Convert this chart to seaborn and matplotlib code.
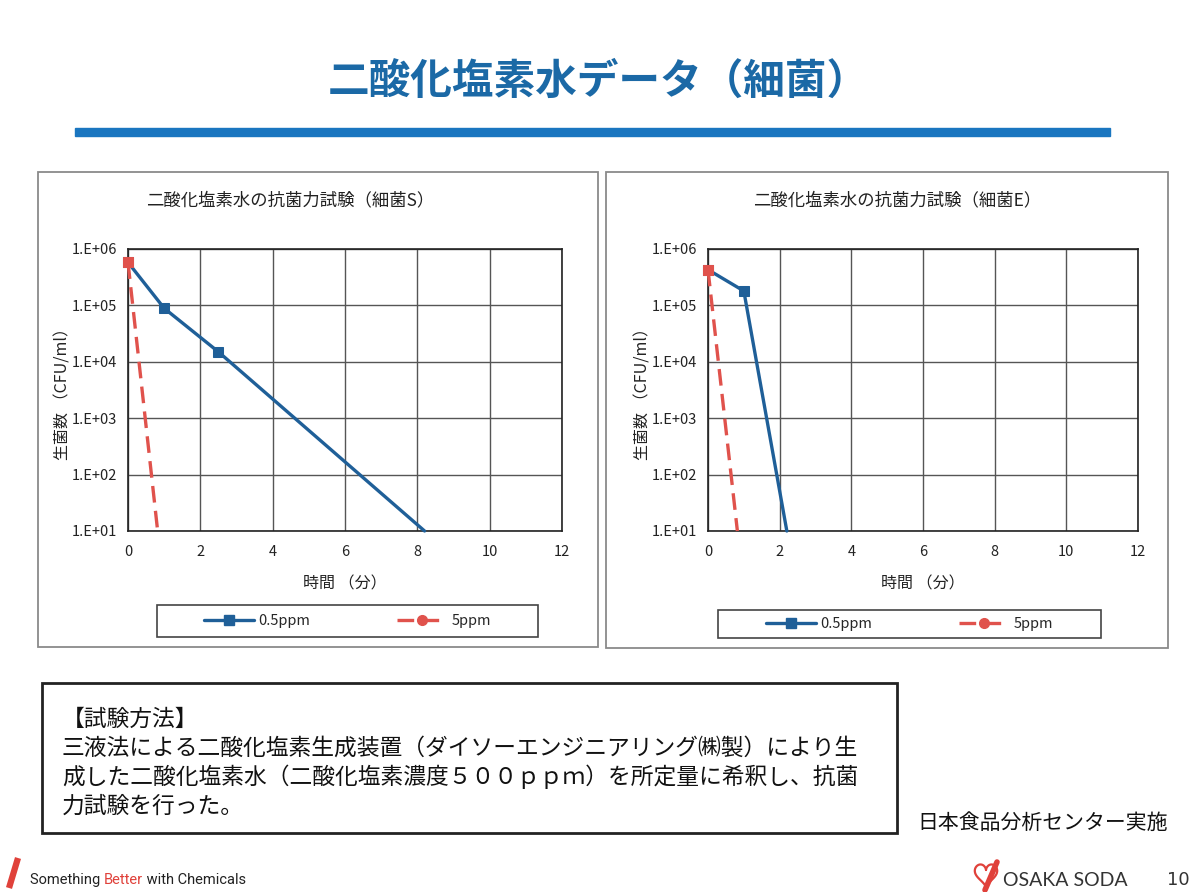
import numpy as np
import pandas as pd
import seaborn as sns
import matplotlib.pyplot as plt
from matplotlib.patches import Rectangle
from matplotlib.lines import Line2D
from matplotlib.ticker import FixedLocator, NullLocator

# data (time in minutes, CFU/ml)
time_s_05 = [0, 1, 2.5, 8.2]
cfu_s_05 = [5.8e5, 8.9e4, 1.5e4, 10]
time_s_5 = [0, 0.82]
cfu_s_5 = [5.8e5, 10]

time_e_05 = [0, 1, 2.2]
cfu_e_05 = [4.3e5, 1.8e5, 10]
time_e_5 = [0, 0.82]
cfu_e_5 = [4.3e5, 10]

series_labels = ["0.5ppm", "5ppm"]
y_ticks = [1e1, 1e2, 1e3, 1e4, 1e5, 1e6]
y_tick_labels = ["1.E+01", "1.E+02", "1.E+03", "1.E+04", "1.E+05", "1.E+06"]
x_ticks = [0, 2, 4, 6, 8, 10, 12]

sns.set_theme(style="white")
plt.rcParams['font.family'] = ['Noto Sans CJK JP', 'DejaVu Sans']

W, H = 1200, 892
fig = plt.figure(figsize=(W / 100, H / 100), dpi=100)
fig.patch.set_facecolor("white")

BLUE = "#1f5f98"
RED = "#e0524c"


def rect(x0, y0, x1, y1):
    return [x0 / W, 1 - y1 / H, (x1 - x0) / W, (y1 - y0) / H]


def fx(x):
    return np.asarray(x) / W


def fy(y):
    return 1 - np.asarray(y) / H


# page title and bar
fig.text(fx(598), fy(82), "二酸化塩素水データ（細菌）", ha="center", va="center",
         fontsize=30, fontweight="semibold", color="#1b69a6")
fig.patches.append(Rectangle((fx(75), fy(136)), fx(1110) - fx(75), fy(128) - fy(136),
                             transform=fig.transFigure, color="#1a76c0", zorder=1))

# chart frames
for bx in [(38, 172, 598, 647), (606, 172, 1168, 648)]:
    fig.patches.append(Rectangle((fx(bx[0]), fy(bx[3])), fx(bx[2]) - fx(bx[0]),
                                 fy(bx[1]) - fy(bx[3]), transform=fig.transFigure,
                                 fill=False, edgecolor="#8a8a8a", lw=1.3))


def draw_chart(ax, t05, c05, t5, c5, title, tx, legend_box):
    df05 = pd.DataFrame({"t": t05, "cfu": c05})
    df5 = pd.DataFrame({"t": t5, "cfu": c5})
    sns.lineplot(data=df05, x="t", y="cfu", ax=ax, color=BLUE, lw=2.4, sort=False,
                 marker="s", markersize=7, markeredgecolor=BLUE,
                 markevery=list(range(len(t05) - 1)), zorder=3, clip_on=False)
    sns.lineplot(data=df5, x="t", y="cfu", ax=ax, color=RED, lw=2.4, sort=False,
                 linestyle=(0, (5, 2.5)), marker="s", markersize=7,
                 markeredgecolor=RED, markevery=[0], zorder=4, clip_on=False)
    ax.set_yscale("log")
    ax.set_xlim(0, 12)
    ax.set_ylim(10, 1e6)
    ax.yaxis.set_major_locator(FixedLocator(y_ticks))
    ax.yaxis.set_minor_locator(NullLocator())
    ax.set_yticklabels(y_tick_labels)
    ax.set_xticks(x_ticks)
    ax.grid(True, color="#555555", lw=1)
    for sp in ax.spines.values():
        sp.set_color("#222222")
        sp.set_linewidth(1.2)
    ax.tick_params(length=0, labelsize=10.5, colors="#222222")
    ax.tick_params(axis="x", pad=10)
    ax.tick_params(axis="y", pad=8)
    ax.set_xlabel("時間 （分）", fontsize=11.5, labelpad=12, color="#222222")
    ax.set_ylabel("生菌数 （CFU/ml）", fontsize=11.5, labelpad=0, color="#222222")
    fig.text(fx(tx), fy(200), title, ha="center", va="center", fontsize=12.5,
             color="#222222")
    handles = [Line2D([], [], color=BLUE, lw=2.4, marker="s", markersize=7),
               Line2D([], [], color=RED, lw=2.4, linestyle=(0, (5, 2.5)),
                      marker="o", markersize=7)]
    lx0, ly0, lx1, ly1 = legend_box
    fig.legend(handles, series_labels, ncol=2, loc="center",
               bbox_to_anchor=(fx((lx0 + lx1) / 2), fy((ly0 + ly1) / 2)),
               frameon=False, fontsize=10.5, handlelength=3.4, columnspacing=6,
               handletextpad=0.3)
    fig.patches.append(Rectangle((fx(lx0), fy(ly1)), fx(lx1) - fx(lx0), fy(ly0) - fy(ly1),
                                 transform=fig.transFigure, fill=False,
                                 edgecolor="#444444", lw=1.2))


ax1 = fig.add_axes(rect(128, 249, 562, 531))
draw_chart(ax1, time_s_05, cfu_s_05, time_s_5, cfu_s_5,
           "二酸化塩素水の抗菌力試験（細菌S）", 290, (157, 605, 538, 637))
ax2 = fig.add_axes(rect(708, 249, 1138, 531))
draw_chart(ax2, time_e_05, cfu_e_05, time_e_5, cfu_e_5,
           "二酸化塩素水の抗菌力試験（細菌E）", 897, (718, 610, 1101, 638))

# method box
fig.patches.append(Rectangle((fx(42), fy(833)), fx(897) - fx(42), fy(683) - fy(833),
                             transform=fig.transFigure, fill=False,
                             edgecolor="#222222", lw=2))
method_lines = ["【試験方法】",
                "三液法による二酸化塩素生成装置（ダイソーエンジニアリング㈱製）により生",
                "成した二酸化塩素水（二酸化塩素濃度５００ｐｐｍ）を所定量に希釈し、抗菌",
                "力試験を行った。"]
for i, line in enumerate(method_lines):
    fig.text(fx(62), fy(719 + i * 29), line, ha="left", va="center",
             fontsize=16.4, color="#111111")

fig.text(fx(1168), fy(823), "日本食品分析センター実施", ha="right", va="center",
         fontsize=15, color="#111111")

# footer
fig.lines.append(Line2D([fx(9), fx(18)], [fy(888), fy(858)], transform=fig.transFigure,
                        color="#e0413a", lw=4.5, solid_capstyle="butt"))
t1 = fig.text(fx(30), fy(880), "Something ", ha="left", va="center",
              fontsize=10.5, color="#222222", family=["Roboto", "DejaVu Sans"])
t2 = fig.text(0, 0, "Better", fontsize=10.5, color="#e0413a",
              family=["Roboto", "DejaVu Sans"])
t3 = fig.text(0, 0, " with Chemicals", fontsize=10.5, color="#222222",
              family=["Roboto", "DejaVu Sans"])
fig.canvas.draw()
r = fig.canvas.get_renderer()
bb1 = t1.get_window_extent(r)
t1.set_va("bottom")
t1.set_position((fx(30), bb1.y0 / H))
t2.set_position((bb1.x1 / W, bb1.y0 / H))
t2.set_va("bottom")
fig.canvas.draw()
bb2 = t2.get_window_extent(r)
t3.set_position((bb2.x1 / W, bb1.y0 / H))
t3.set_va("bottom")

# logo: heart outline plus a slash stroke
th = np.linspace(0, 2 * np.pi, 120)
hx = 16 * np.sin(th) ** 3
hy = 13 * np.cos(th) - 5 * np.cos(2 * th) - 2 * np.cos(3 * th) - np.cos(4 * th)
fig.lines.append(Line2D(fx(986 + hx * 0.7), fy(874 - hy * 0.8), transform=fig.transFigure,
                        color="#e0413a", lw=1.6))
fig.lines.append(Line2D([fx(985), fx(997)], [fy(890), fy(862)], transform=fig.transFigure,
                        color="#e0413a", lw=4, solid_capstyle="round"))
fig.text(fx(1003), fy(880), "OSAKA SODA", ha="left", va="center", fontsize=14,
         color="#333333", family=["Lato", "DejaVu Sans"])
fig.text(fx(1190), fy(880), "10", ha="right", va="center", fontsize=13,
         color="#333333", family=["DejaVu Sans"])

fig.savefig("out.png", dpi=100)
